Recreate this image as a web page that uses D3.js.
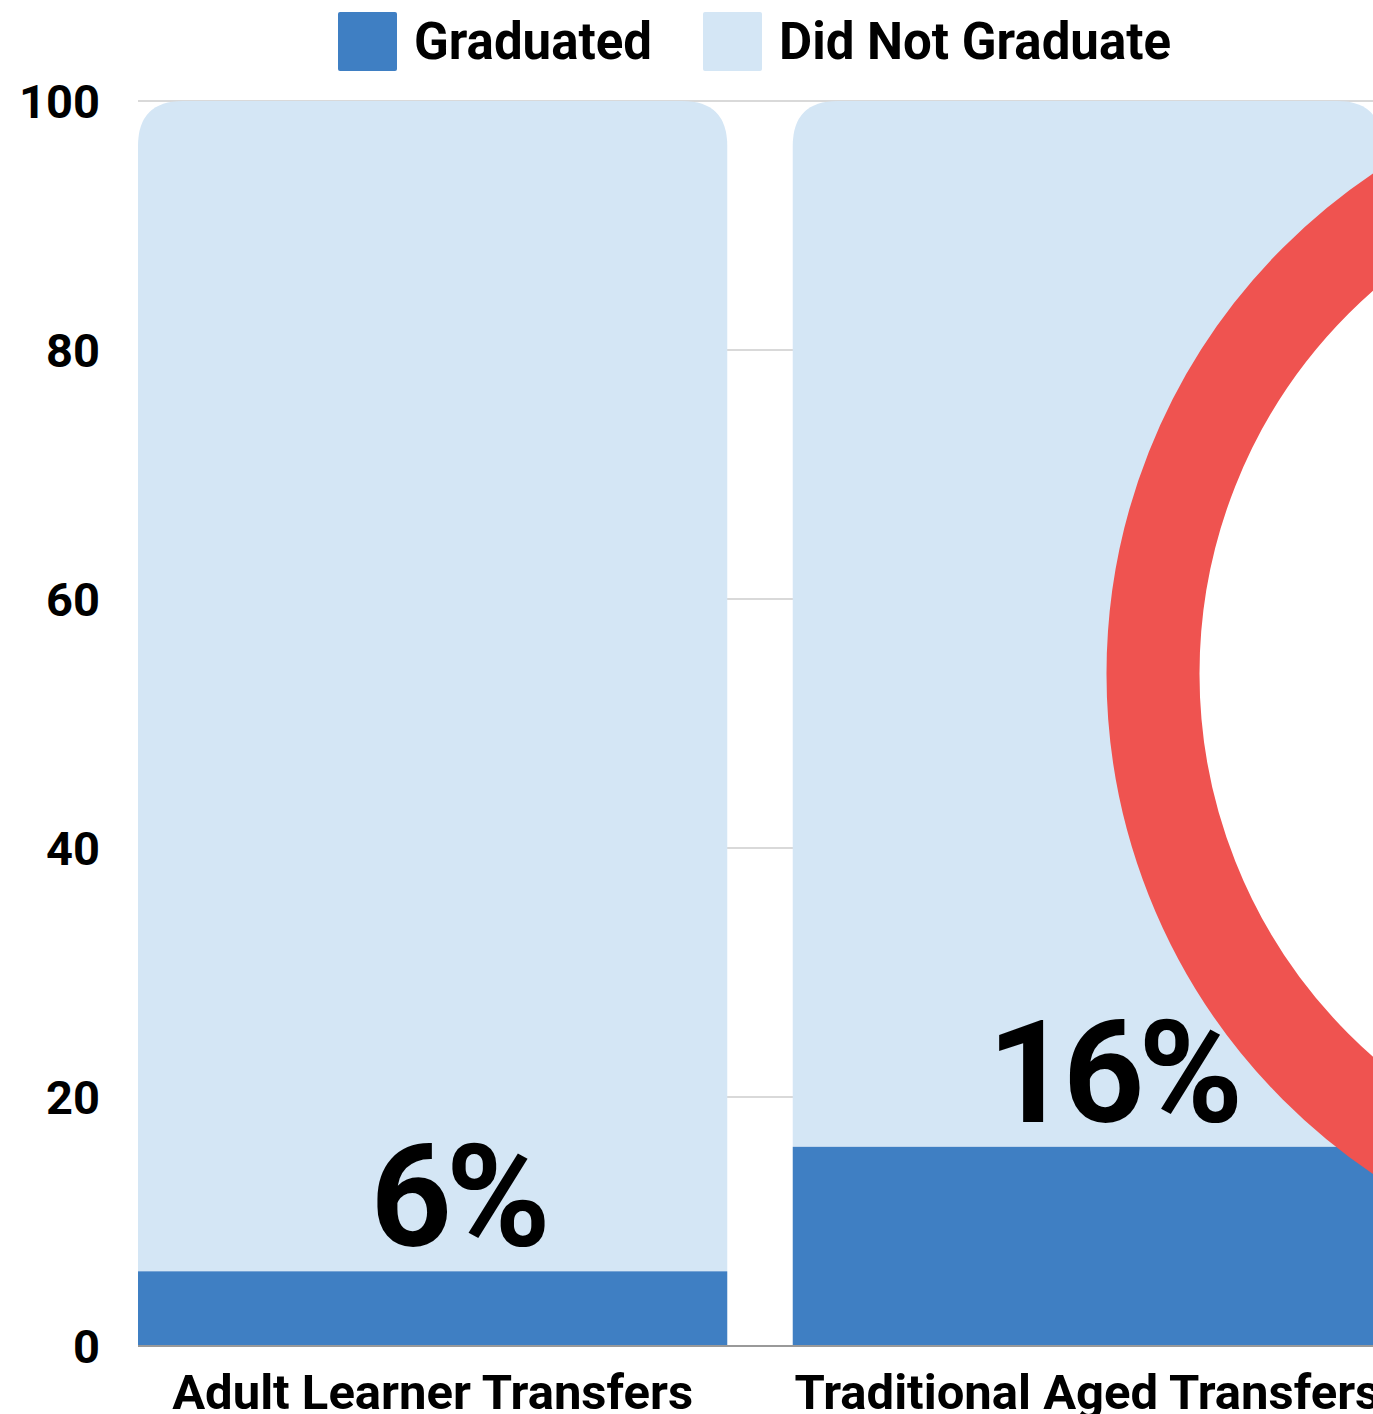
<!DOCTYPE html>
<meta charset="utf-8">
<html>
<head>
    <style>
        body { margin: 0; background: #fff; }
        text { font-family: Roboto, "Liberation Sans", sans-serif; font-weight: 700; fill: #000; }
        .grid line { stroke: #cccccc; stroke-width: 1.5px; }
        .baseline { stroke: #999999; stroke-width: 2px; }
    </style>
    <title>Transfer graduation</title>
    <script src="https://cdn.jsdelivr.net/npm/d3@7"></script>
</head>
<body>
<div id="chart"></div>
<script>
    // data
    const categories = ["Adult Learner Transfers", "Traditional Aged Transfers"];
    const graduated = [6, 16];
    const notGraduated = [94, 84];
    const seriesNames = ["Graduated", "Did Not Graduate"];
    const yTicks = [0, 20, 40, 60, 80, 100];

    const colors = {grad: "#3f7fc3", notGrad: "#d4e6f5", ring: "#ef5350"};

    const W = 1373, H = 1414,
        margin = {top: 101, left: 138, bottom: 68},
        plotBottom = H - margin.bottom,
        plotRight = 1382;

    const svg = d3.select("#chart").append("svg")
        .attr("width", W)
        .attr("height", H)
        .style("display", "block");

    const x = d3.scaleBand()
        .domain(categories)
        .range([margin.left, plotRight])
        .paddingInner(0.1)
        .paddingOuter(0);

    const y = d3.scaleLinear()
        .domain([0, 100])
        .range([plotBottom, margin.top]);

    // gridlines
    svg.append("g").attr("class", "grid")
        .selectAll("line")
        .data(yTicks.filter(d => d > 0))
        .enter().append("line")
        .attr("x1", margin.left)
        .attr("x2", W)
        .attr("y1", d => y(d))
        .attr("y2", d => y(d));

    // y tick labels
    svg.append("g")
        .selectAll("text")
        .data(yTicks)
        .enter().append("text")
        .attr("x", 100)
        .attr("y", d => y(d))
        .attr("dy", "0.36em")
        .attr("text-anchor", "end")
        .style("font-size", "47px")
        .text(d => d);

    const rows = categories.map((c, i) => ({cat: c, grad: graduated[i], not: notGraduated[i]}));
    const r = 45;

    // top (did not graduate) segments with rounded top corners
    svg.append("g")
        .selectAll("path")
        .data(rows)
        .enter().append("path")
        .attr("fill", colors.notGrad)
        .attr("d", d => {
            const x0 = x(d.cat), x1 = x0 + x.bandwidth(),
                yTop = y(d.grad + d.not), yBot = y(d.grad);
            return `M${x0},${yBot} L${x0},${yTop + r} Q${x0},${yTop} ${x0 + r},${yTop}` +
                ` L${x1 - r},${yTop} Q${x1},${yTop} ${x1},${yTop + r} L${x1},${yBot} Z`;
        });

    // graduated segments
    svg.append("g")
        .selectAll("rect")
        .data(rows)
        .enter().append("rect")
        .attr("fill", colors.grad)
        .attr("x", d => x(d.cat))
        .attr("width", x.bandwidth())
        .attr("y", d => y(d.grad))
        .attr("height", d => y(0) - y(d.grad));

    svg.append("line")
        .attr("class", "baseline")
        .attr("x1", margin.left)
        .attr("x2", W)
        .attr("y1", y(0))
        .attr("y2", y(0));

    // red highlight ring annotation
    svg.append("circle")
        .attr("cx", 1709)
        .attr("cy", y(54))
        .attr("r", 556)
        .attr("fill", "#fff")
        .attr("stroke", colors.ring)
        .attr("stroke-width", 93);

    // value labels
    svg.append("g")
        .selectAll("text")
        .data(rows)
        .enter().append("text")
        .attr("x", d => x(d.cat) + x.bandwidth() / 2 + 25)
        .attr("y", d => y(d.grad) - 25)
        .attr("text-anchor", "middle")
        .style("font-size", "142px")
        .style("letter-spacing", "-6px")
        .text(d => d.grad + "%");

    // category labels
    svg.append("g")
        .selectAll("text")
        .data(categories)
        .enter().append("text")
        .attr("x", d => x(d) + x.bandwidth() / 2)
        .attr("y", 1409)
        .attr("text-anchor", "middle")
        .style("font-size", "49px")
        .text(d => d);

    // legend
    const legendX = [338, 703];
    const legend = svg.append("g")
        .selectAll("g")
        .data(seriesNames)
        .enter().append("g")
        .attr("transform", (d, i) => "translate(" + legendX[i] + ",12)");

    legend.append("rect")
        .attr("width", 59)
        .attr("height", 59)
        .attr("rx", 2)
        .attr("fill", (d, i) => i === 0 ? colors.grad : colors.notGrad);

    legend.append("text")
        .attr("x", 76)
        .attr("y", 47)
        .style("font-size", "51px")
        .text(d => d);
</script>
</body>
</html>
